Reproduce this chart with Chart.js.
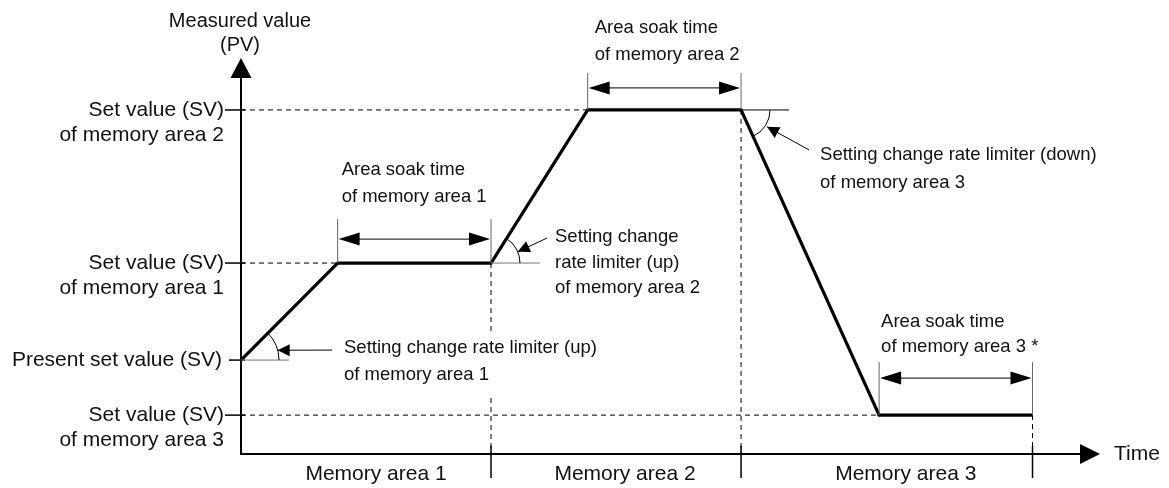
<!DOCTYPE html>
<html>
<head>
<meta charset="utf-8">
<script src="https://cdn.jsdelivr.net/npm/chart.js@4.4.1/dist/chart.umd.min.js"></script>
<style>
html, body { margin: 0; padding: 0; background: #fff; }
#profileChart { display: block; }
</style>
</head>
<body>
<canvas id="profileChart" width="1169" height="488"></canvas>
<script>
// profile corners: time (arbitrary units) and measured value
const profileTime = [0, 6.3, 16.3, 22.6, 32.6, 41.6, 51.6];
const profileValue = [27.3, 55.5, 55.5, 100, 100, 11.3, 11.3];

const levelValues = [100, 55.5, 27.3, 11.3];
const levelLabels = [
    ["Set value (SV)", "of memory area 2"],
    ["Set value (SV)", "of memory area 1"],
    ["Present set value (SV)"],
    ["Set value (SV)", "of memory area 3"]
];
// where each dashed guide stops on the time axis (0 = no guide)
const levelGuideEnd = [22.6, 6.3, 0, 41.6];

const areaNames = ["Memory area 1", "Memory area 2", "Memory area 3"];
const areaEnds = [16.3, 32.6, 51.6];

const soakStart = [6.3, 22.6, 41.6];
const soakEnd = [16.3, 32.6, 51.6];
const soakLevel = [55.5, 100, 11.3];
const soakLabels = [
    ["Area soak time", "of memory area 1"],
    ["Area soak time", "of memory area 2"],
    ["Area soak time", "of memory area 3 *"]
];

const limiterTime = [0, 16.3, 32.6];
const limiterLabels = [
    ["Setting change rate limiter (up)", "of memory area 1"],
    ["Setting change", "rate limiter (up)", "of memory area 2"],
    ["Setting change rate limiter (down)", "of memory area 3"]
];

const timeMax = 56;
const valueMax = 115.1;

// layout of the annotations, pixel offsets
const areaNudge = [10, 9, 19];
const soakLayout = [
    { arrow: 24, ext: 20, textX: 4, textY: [-69, -42] },
    { arrow: 22, ext: 15, textX: 7, textY: [-60, -33] },
    { arrow: 37, ext: 16, textX: 2, textY: [-56, -31] }
];
const limiterLayout = [
    { r: 38, ref: 48, tip: 15, from: [91, -10], textX: 103, textY: [-12, 15] },
    { r: 29, ref: 49, tip: 23, from: [56, -25], textX: 64, textY: [-26, 0, 25] },
    { r: 29, ref: 48, tip: 33, from: [68, 40], textX: 79, textY: [45, 73] }
];

const FAMILY = 'Arial, "Liberation Sans", sans-serif';
const AXIS_FONT = "21px " + FAMILY;
const NOTE_FONT = "18.5px " + FAMILY;
const INK = "#111";

function valueAt(t) {
    return profileValue[profileTime.lastIndexOf(t)];
}

function seg(ctx, x1, y1, x2, y2, w, color) {
    ctx.beginPath();
    ctx.moveTo(x1, y1);
    ctx.lineTo(x2, y2);
    ctx.lineWidth = w;
    ctx.strokeStyle = color;
    ctx.stroke();
}

function head(ctx, fx, fy, tx, ty, len, half) {
    const a = Math.atan2(ty - fy, tx - fx);
    const bx = tx - len * Math.cos(a), by = ty - len * Math.sin(a);
    ctx.beginPath();
    ctx.moveTo(tx, ty);
    ctx.lineTo(bx + half * Math.sin(a), by - half * Math.cos(a));
    ctx.lineTo(bx - half * Math.sin(a), by + half * Math.cos(a));
    ctx.closePath();
    ctx.fillStyle = "#000";
    ctx.fill();
}

function lines(ctx, arr, x, ys, align, font, knockout) {
    ctx.font = font;
    ctx.textAlign = align;
    ctx.textBaseline = "middle";
    if (knockout) {
        // white box behind the note so guides pass under it
        const w = Math.max(...arr.map(s => ctx.measureText(s).width));
        ctx.fillStyle = "#fff";
        ctx.fillRect(x - 3, ys[0] - 16, w + 6, ys[ys.length - 1] - ys[0] + 38);
    }
    ctx.fillStyle = INK;
    arr.forEach((s, i) => ctx.fillText(s, x, ys[i]));
}

const diagramPlugin = {
    id: "diagram",
    afterDatasetsDraw(chart) {
        const ctx = chart.ctx;
        const X = v => chart.scales.x.getPixelForValue(v);
        const Y = v => chart.scales.y.getPixelForValue(v);
        const x0 = X(0), y0 = Y(0);
        const yTop = Y(valueMax), xEnd = X(timeMax);
        ctx.save();
        ctx.lineCap = "butt";

        // axes
        seg(ctx, x0, y0 + 1, x0, yTop + 19, 2, "#000");
        head(ctx, x0, y0, x0, yTop, 20, 10.5);
        seg(ctx, x0 - 1, y0, xEnd - 19, y0, 2, "#000");
        head(ctx, x0, y0, xEnd, y0, 20, 10);
        lines(ctx, ["Measured value", "(PV)"], x0 - 1, [yTop - 37, yTop - 13], "center", "20px " + FAMILY);
        lines(ctx, ["Time"], xEnd + 14, [y0], "left", AXIS_FONT);

        // level labels and ticks
        levelValues.forEach((v, i) => {
            const y = Y(v);
            const single = levelLabels[i].length === 1;
            seg(ctx, x0 - (single ? 12 : 16), y, x0 + 4, y, 1.5, "#000");
            lines(ctx, levelLabels[i], x0 - (single ? 19 : 17), [y, y + 25], "right", AXIS_FONT);
        });

        // memory area separators and names
        let prev = 0;
        areaEnds.forEach((t, i) => {
            seg(ctx, X(t), y0 - 8, X(t), y0 + 24, 1.5, "#000");
            lines(ctx, [areaNames[i]], (X(prev) + X(t)) / 2 + areaNudge[i], [y0 + 20], "center", AXIS_FONT);
            prev = t;
        });

        // soak time dimension arrows
        soakStart.forEach((t, i) => {
            const L = soakLayout[i];
            const xa = X(t), xb = X(soakEnd[i]);
            const ay = Y(soakLevel[i]) - L.arrow;
            seg(ctx, xa, Y(soakLevel[i]), xa, ay - L.ext, 1, "#666");
            seg(ctx, xb, Y(soakLevel[i]), xb, ay - L.ext, 1, "#666");
            seg(ctx, xa + 15, ay, xb - 15, ay, 1.2, "#333");
            head(ctx, xb, ay, xa + 1, ay, 21, 6.5);
            head(ctx, xa, ay, xb - 1, ay, 21, 6.5);
            lines(ctx, soakLabels[i], xa + L.textX, L.textY.map(d => ay + d), "left", NOTE_FONT);
        });

        // rate limiter angles
        limiterTime.forEach((t, i) => {
            const L = limiterLayout[i];
            const k = profileTime.lastIndexOf(t);
            const cx = X(t), cy = Y(profileValue[k]);
            const slope = Math.atan2(Y(profileValue[k + 1]) - cy, X(profileTime[k + 1]) - cx);
            const down = slope > 0;
            seg(ctx, cx, cy, cx + L.ref, cy, 1, down ? "#000" : "#777");
            ctx.beginPath();
            if (down) ctx.arc(cx, cy, L.r, 0, slope);
            else ctx.arc(cx, cy, L.r, slope, 0);
            ctx.lineWidth = 1;
            ctx.strokeStyle = "#000";
            ctx.stroke();
            const a = (down ? 1 : -1) * L.tip * Math.PI / 180;
            const rr = down ? L.r + 2 : L.r;
            const tx = cx + rr * Math.cos(a), ty = cy + rr * Math.sin(a);
            const fx = cx + L.from[0], fy = cy + L.from[1];
            seg(ctx, fx, fy, tx, ty, 1, "#000");
            head(ctx, fx, fy, tx, ty, 12, 6);
            lines(ctx, limiterLabels[i], cx + L.textX, L.textY.map(d => cy + d), "left", NOTE_FONT, i === 0);
        });

        ctx.restore();
    }
};

function dashed(points) {
    return {
        data: points,
        borderColor: "#000",
        borderWidth: 1,
        borderDash: [5, 4],
        pointRadius: 0,
        clip: false
    };
}

const datasets = [{
    data: profileTime.map((t, i) => ({ x: t, y: profileValue[i] })),
    borderColor: "#000",
    borderWidth: 3.2,
    borderJoinStyle: "miter",
    pointRadius: 0,
    clip: false
}];

levelValues.forEach((v, i) => {
    if (levelGuideEnd[i] > 0) datasets.push(dashed([{ x: 0, y: v }, { x: levelGuideEnd[i], y: v }]));
});
areaEnds.forEach(t => {
    datasets.push(dashed([{ x: t, y: valueAt(t) }, { x: t, y: 0 }]));
});

new Chart(document.getElementById("profileChart").getContext("2d"), {
    type: "line",
    data: { datasets: datasets },
    options: {
        responsive: false,
        devicePixelRatio: 1,
        animation: false,
        layout: { padding: { left: 241, right: 69, top: 58, bottom: 34 } },
        plugins: { legend: { display: false }, tooltip: { enabled: false } },
        elements: { line: { tension: 0 } },
        scales: {
            x: { type: "linear", min: 0, max: timeMax, display: false },
            y: { type: "linear", min: 0, max: valueMax, display: false }
        }
    },
    plugins: [diagramPlugin]
});
</script>
</body>
</html>
